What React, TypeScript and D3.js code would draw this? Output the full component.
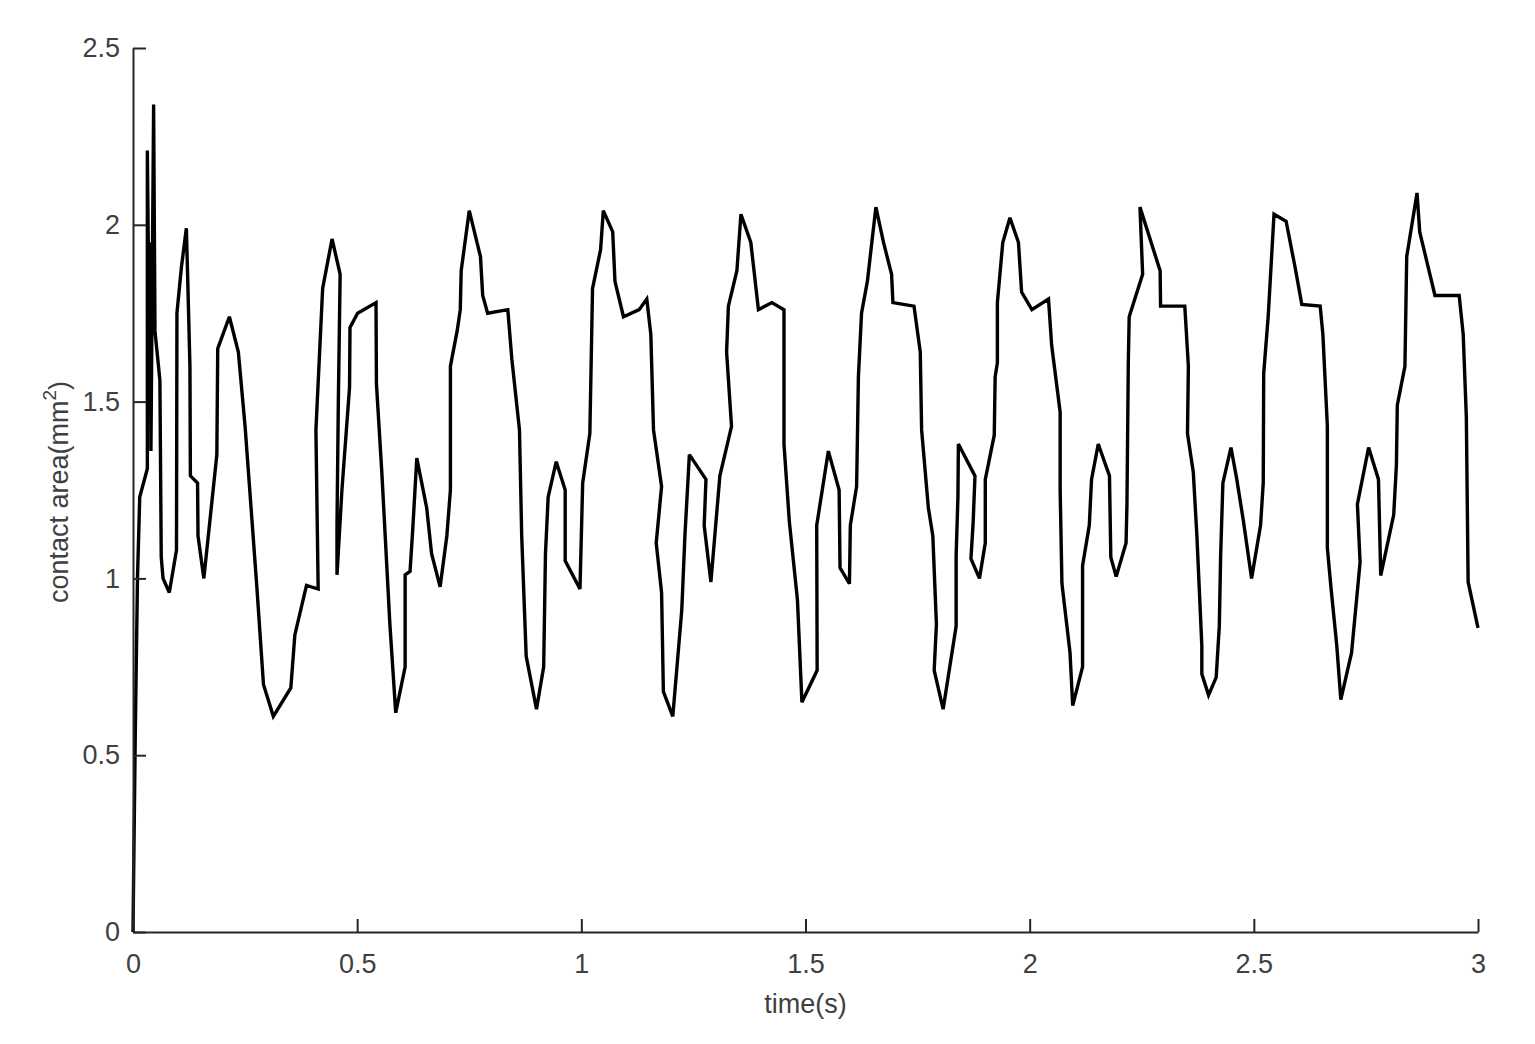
import * as d3 from "d3";
import { useEffect, useRef } from "react";

// time (s) and contact area (mm^2)
const timeValues = [
    0, 0.005, 0.01, 0.015, 0.032, 0.032, 0.036, 0.038, 0.04, 0.046, 0.049, 0.06, 0.063, 0.067, 0.081,
    0.097, 0.098, 0.108, 0.119, 0.123, 0.127, 0.128, 0.144, 0.145, 0.158, 0.187, 0.189, 0.215, 0.235,
    0.25, 0.276, 0.291, 0.313, 0.352, 0.361, 0.387, 0.413, 0.408, 0.423, 0.444, 0.462, 0.458, 0.455,
    0.455, 0.466, 0.483, 0.484, 0.501, 0.542, 0.543, 0.555, 0.573, 0.586, 0.607, 0.607, 0.618, 0.624,
    0.633, 0.655, 0.666, 0.685, 0.7, 0.708, 0.708, 0.723, 0.73, 0.732, 0.75, 0.775, 0.78, 0.791, 0.836,
    0.845, 0.862, 0.867, 0.877, 0.9, 0.916, 0.92, 0.926, 0.944, 0.964, 0.964, 0.997, 1.003, 1.019,
    1.025, 1.043, 1.049, 1.07, 1.075, 1.094, 1.129, 1.146, 1.155, 1.161, 1.179, 1.167, 1.179, 1.183,
    1.204, 1.224, 1.231, 1.241, 1.278, 1.274, 1.289, 1.309, 1.335, 1.324, 1.328, 1.347, 1.356, 1.378,
    1.395, 1.425, 1.452, 1.452, 1.464, 1.482, 1.492, 1.526, 1.525, 1.551, 1.575, 1.577, 1.598, 1.6,
    1.614, 1.618, 1.625, 1.638, 1.657, 1.674, 1.692, 1.695, 1.742, 1.756, 1.759, 1.774, 1.784, 1.792,
    1.787, 1.807, 1.836, 1.836, 1.84, 1.841, 1.878, 1.874, 1.869, 1.888, 1.901, 1.901, 1.921, 1.923,
    1.928, 1.928, 1.94, 1.956, 1.975, 1.982, 2.005, 2.042, 2.049, 2.068, 2.068, 2.072, 2.09, 2.096,
    2.118, 2.118, 2.133, 2.138, 2.153, 2.178, 2.181, 2.193, 2.215, 2.217, 2.22, 2.222, 2.252, 2.246,
    2.291, 2.292, 2.346, 2.354, 2.352, 2.365, 2.373, 2.384, 2.384, 2.399, 2.416, 2.423, 2.426, 2.431,
    2.449, 2.462, 2.477, 2.495, 2.515, 2.521, 2.522, 2.532, 2.545, 2.572, 2.592, 2.607, 2.648, 2.654,
    2.664, 2.664, 2.672, 2.685, 2.694, 2.718, 2.737, 2.731, 2.756, 2.778, 2.783, 2.812, 2.818, 2.82,
    2.837, 2.841, 2.864, 2.87, 2.904, 2.958, 2.967, 2.974, 2.978, 3.0,
];

const areaValues = [
    0, 0.55, 1.0, 1.23, 1.31, 2.21, 1.7, 1.95, 1.36, 2.34, 1.7, 1.56, 1.06, 1.0, 0.96,
    1.08, 1.75, 1.88, 1.99, 1.8, 1.6, 1.29, 1.27, 1.12, 1.0, 1.35, 1.65, 1.74, 1.64,
    1.43, 0.98, 0.7, 0.61, 0.69, 0.84, 0.98, 0.97, 1.42, 1.82, 1.96, 1.86, 1.5, 1.15,
    1.01, 1.25, 1.54, 1.71, 1.75, 1.78, 1.55, 1.3, 0.87, 0.62, 0.75, 1.01, 1.02, 1.14,
    1.34, 1.2, 1.07, 0.976, 1.12, 1.25, 1.6, 1.7, 1.76, 1.87, 2.04, 1.91, 1.8, 1.75, 1.76,
    1.62, 1.42, 1.12, 0.78, 0.63, 0.75, 1.07, 1.23, 1.33, 1.25, 1.05, 0.97, 1.27, 1.41,
    1.82, 1.93, 2.04, 1.98, 1.84, 1.74, 1.76, 1.79, 1.69, 1.42, 1.26, 1.1, 0.96, 0.68,
    0.61, 0.91, 1.12, 1.35, 1.28, 1.15, 0.99, 1.29, 1.43, 1.64, 1.77, 1.87, 2.03, 1.95,
    1.76, 1.78, 1.76, 1.38, 1.16, 0.94, 0.65, 0.74, 1.15, 1.36, 1.25, 1.03, 0.985, 1.15,
    1.26, 1.57, 1.75, 1.84, 2.05, 1.95, 1.86, 1.78, 1.77, 1.64, 1.42, 1.2, 1.12, 0.87,
    0.74, 0.63, 0.865, 1.065, 1.23, 1.38, 1.29, 1.16, 1.056, 1.0, 1.1, 1.28, 1.405, 1.57,
    1.61, 1.78, 1.95, 2.02, 1.95, 1.81, 1.76, 1.79, 1.66, 1.47, 1.25, 0.985, 0.79, 0.64,
    0.75, 1.036, 1.15, 1.28, 1.38, 1.29, 1.06, 1.005, 1.1, 1.21, 1.61, 1.74, 1.86, 2.05,
    1.87, 1.77, 1.77, 1.6, 1.41, 1.3, 1.12, 0.81, 0.73, 0.67, 0.72, 0.865, 1.066, 1.27,
    1.37, 1.28, 1.16, 1.0, 1.15, 1.27, 1.58, 1.74, 2.03, 2.01, 1.88, 1.775, 1.77, 1.69,
    1.43, 1.086, 0.975, 0.81, 0.657, 0.79, 1.046, 1.21, 1.37, 1.28, 1.008, 1.18, 1.32, 1.49,
    1.6, 1.91, 2.09, 1.98, 1.8, 1.8, 1.69, 1.456, 0.99, 0.86,
];

const xTicks = [0, 0.5, 1, 1.5, 2, 2.5, 3];
const yTicks = [0, 0.5, 1, 1.5, 2, 2.5];

const ContactAreaChart = () => {
    const svgRef = useRef<SVGSVGElement | null>(null);

    const dimensions = { width: 1535, height: 1044 };
    const margin = { top: 48, right: 57, bottom: 112, left: 133 };

    useEffect(() => {
        const svg = d3.select(svgRef.current);
        svg.selectAll("*").remove();

        const points = timeValues.map((t, i) => ({ t, a: areaValues[i] }));

        const xScale = d3
            .scaleLinear()
            .domain([0, 3])
            .range([margin.left, dimensions.width - margin.right]);

        const yScale = d3
            .scaleLinear()
            .domain([0, 2.5])
            .range([dimensions.height - margin.bottom, margin.top]);

        const line = d3
            .line<{ t: number; a: number }>()
            .x((d) => xScale(d.t))
            .y((d) => yScale(d.a));

        const font = "'Liberation Sans', Arial, Helvetica, sans-serif";
        const axisColor = "#262626";
        const textColor = "#404040";
        const fontSize = 27;
        const tickLen = 13;

        // data line
        svg.append("path")
            .datum(points)
            .attr("d", line)
            .attr("fill", "none")
            .attr("stroke", "#000")
            .attr("stroke-width", 3.4)
            .attr("stroke-linejoin", "miter")
            .attr("stroke-miterlimit", 3);

        // x axis, ticks pointing inward
        const xAxis = d3
            .axisBottom(xScale)
            .tickValues(xTicks)
            .tickSizeInner(-tickLen)
            .tickSizeOuter(0)
            .tickPadding(22)
            .tickFormat((d) => d3.format("")(d as number));

        const gx = svg
            .append("g")
            .attr("transform", `translate(0, ${dimensions.height - margin.bottom})`)
            .call(xAxis);
        gx.select(".domain").attr("stroke", axisColor).attr("stroke-width", 2);
        gx.selectAll(".tick line").attr("stroke", axisColor).attr("stroke-width", 2);
        gx.selectAll(".tick text")
            .attr("fill", textColor)
            .attr("font-family", font)
            .attr("font-size", fontSize);

        // y axis, ticks pointing inward
        const yAxis = d3
            .axisLeft(yScale)
            .tickValues(yTicks)
            .tickSizeInner(-tickLen)
            .tickSizeOuter(0)
            .tickPadding(13)
            .tickFormat((d) => d3.format("")(d as number));

        const gy = svg
            .append("g")
            .attr("transform", `translate(${margin.left}, 0)`)
            .call(yAxis);
        gy.select(".domain").attr("stroke", axisColor).attr("stroke-width", 2);
        gy.selectAll(".tick line").attr("stroke", axisColor).attr("stroke-width", 2);
        gy.selectAll(".tick text")
            .attr("fill", textColor)
            .attr("font-family", font)
            .attr("font-size", fontSize);

        // axis labels
        svg.append("text")
            .attr("x", (margin.left + dimensions.width - margin.right) / 2)
            .attr("y", 1013)
            .attr("text-anchor", "middle")
            .attr("fill", textColor)
            .attr("font-family", font)
            .attr("font-size", fontSize)
            .text("time(s)");

        const yLabel = svg
            .append("text")
            .attr("transform", `translate(68, 492) rotate(-90)`)
            .attr("text-anchor", "middle")
            .attr("fill", textColor)
            .attr("font-family", font)
            .attr("font-size", fontSize);
        yLabel.append("tspan").text("contact area(mm");
        yLabel.append("tspan").attr("font-size", 19).attr("dy", -12).text("2");
        yLabel.append("tspan").attr("dy", 12).text(")");
    }, []);

    return (
        <svg
            ref={svgRef}
            width={dimensions.width}
            height={dimensions.height}
            style={{ position: "absolute", left: 0, top: 0, background: "#fff" }}
        />
    );
};

export default function App() {
    return <ContactAreaChart />;
}
